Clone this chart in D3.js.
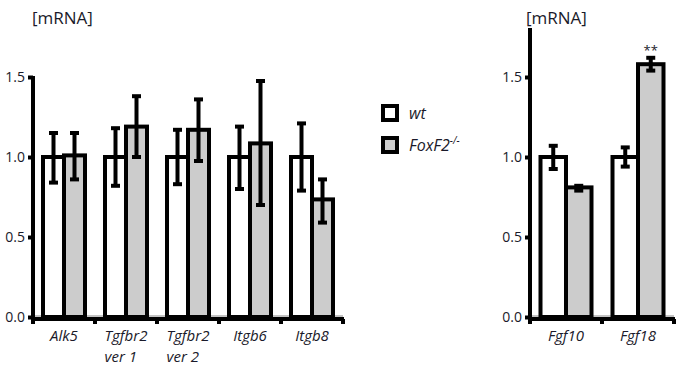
<!DOCTYPE html>
<html><head><meta charset="utf-8">
<script src="https://cdn.jsdelivr.net/npm/d3@7/dist/d3.min.js"></script>
<style>body{margin:0;background:#fff}svg{display:block}text{font-family:"Open Sans",sans-serif;fill:#1a1a2a}</style>
</head><body><svg id="c" width="687" height="369"></svg>
<script>
const leftCats = ["Alk5", "Tgfbr2\nver 1", "Tgfbr2\nver 2", "Itgb6", "Itgb8"];
const leftWt = [1.0, 1.0, 1.0, 1.0, 1.0];
const leftWtErr = [[0.84, 1.15], [0.82, 1.18], [0.83, 1.17], [0.80, 1.19], [0.79, 1.21]];
const leftKo = [1.01, 1.19, 1.17, 1.085, 0.735];
const leftKoErr = [[0.86, 1.15], [1.0, 1.38], [0.975, 1.36], [0.70, 1.475], [0.59, 0.86]];
const rightCats = ["Fgf10", "Fgf18"];
const rightWt = [1.0, 1.0];
const rightWtErr = [[0.925, 1.07], [0.94, 1.06]];
const rightKo = [0.81, 1.58];
const rightKoErr = [[0.79, 0.82], [1.54, 1.62]];
const rightSig = ["", "**"];
const yTicks = [0, 0.5, 1.0, 1.5];
const series = ["wt", "FoxF2"];
const colors = {wt: "#ffffff", FoxF2: "#cccccc"};

const svg = d3.select("#c");
const SW = 4;

function panel(cfg) {
  const y = d3.scaleLinear().domain([0, cfg.ymax]).range([317, cfg.ytop]);
  const x = d3.scaleBand().domain(cfg.cats).range([cfg.x0, cfg.x1]).padding(0);
  const xs = d3.scaleBand().domain(series).range([cfg.pad, x.bandwidth() - cfg.pad]).padding(0);
  const g = svg.append("g");
  g.append("line").attr("x1", cfg.x0).attr("x2", cfg.x1).attr("y1", y(0) - 1).attr("y2", y(0) - 1)
    .attr("stroke", "#888").attr("stroke-width", 1);
  const data = cfg.cats.map((c, i) => ({c, i}));
  const bars = [];
  data.forEach(d => {
    bars.push({c: d.c, s: "wt", v: cfg.wt[d.i], e: cfg.wtErr[d.i]});
    bars.push({c: d.c, s: "FoxF2", v: cfg.ko[d.i], e: cfg.koErr[d.i]});
  });
  const bg = g.selectAll("g.bar").data(bars).join("g").attr("class", "bar")
    .attr("transform", d => `translate(${x(d.c) + xs(d.s)},0)`);
  bg.append("rect").attr("x", 0).attr("width", xs.bandwidth())
    .attr("y", d => y(d.v)).attr("height", d => y(0) - y(d.v))
    .attr("fill", d => colors[d.s]).attr("stroke", "#000").attr("stroke-width", SW);
  const cx = xs.bandwidth() / 2;
  bg.append("line").attr("x1", cx).attr("x2", cx).attr("y1", d => y(d.e[0])).attr("y2", d => y(d.e[1]))
    .attr("stroke", "#000").attr("stroke-width", SW);
  bg.append("line").attr("x1", cx - 4.5).attr("x2", cx + 4.5).attr("y1", d => y(d.e[0])).attr("y2", d => y(d.e[0]))
    .attr("stroke", "#000").attr("stroke-width", SW);
  bg.append("line").attr("x1", cx - 4.5).attr("x2", cx + 4.5).attr("y1", d => y(d.e[1])).attr("y2", d => y(d.e[1]))
    .attr("stroke", "#000").attr("stroke-width", SW);
  if (cfg.sig) {
    bg.filter(d => d.s === "FoxF2").append("text").attr("x", cx).attr("y", d => y(d.e[1]) - 3)
      .attr("text-anchor", "middle").attr("font-size", 13).text((d, i) => cfg.sig[i]);
  }
  const ya = g.append("g").attr("transform", `translate(${cfg.x0},0)`)
    .call(d3.axisLeft(y).tickValues(yTicks).tickFormat(d3.format(".1f")).tickSize(5).tickPadding(3));
  ya.select(".domain").remove();
  ya.append("line").attr("x1", 0).attr("x2", 0).attr("y1", y(cfg.ymax) - 1).attr("y2", y(0) + 4)
    .attr("stroke", "#000").attr("stroke-width", SW);
  ya.selectAll(".tick line").attr("stroke", "#000").attr("stroke-width", SW);
  ya.selectAll(".tick text").attr("font-size", 14).attr("fill", "#1a1a2a").attr("font-family", "Open Sans, sans-serif");
  const xa = g.append("g").attr("transform", `translate(0,${y(0) + 2})`);
  xa.append("line").attr("x1", cfg.x0).attr("x2", cfg.x1 + 1).attr("stroke", "#000").attr("stroke-width", SW);
  const edges = cfg.cats.map(c => x(c)).concat([cfg.x1]);
  xa.selectAll("line.tk").data(edges).join("line").attr("class", "tk")
    .attr("x1", d => d).attr("x2", d => d).attr("y1", 0).attr("y2", 5)
    .attr("stroke", "#000").attr("stroke-width", SW);
  data.forEach(d => {
    const lines = d.c.split("\n");
    const mid = x(d.c) + x.bandwidth() / 2;
    const t1 = g.append("text").attr("font-size", 15).attr("font-style", "italic")
      .attr("y", 341).attr("x", mid).attr("text-anchor", "middle").text(lines[0]);
    if (lines.length > 1) {
      const w = t1.node().getComputedTextLength();
      g.append("text").attr("font-size", 15).attr("font-style", "italic")
        .attr("y", 362).attr("x", mid - w / 2).text(lines[1]);
    }
  });
  g.append("text").attr("x", cfg.titleX).attr("y", cfg.titleY).attr("font-size", 17).text("[mRNA]");
}

panel({cats: leftCats, wt: leftWt, wtErr: leftWtErr, ko: leftKo, koErr: leftKoErr,
  x0: 33, x1: 343, pad: 10, ymax: 1.5, ytop: 77, titleX: 32, titleY: 24});
panel({cats: rightCats, wt: rightWt, wtErr: rightWtErr, ko: rightKo, koErr: rightKoErr, sig: rightSig,
  x0: 530, x1: 674, pad: 10.5, ymax: 1.8, ytop: 29, titleX: 526, titleY: 24});

const lg = svg.append("g").attr("transform", "translate(383,106)");
const items = [{s: "wt", label: "wt"}, {s: "FoxF2", label: "FoxF2", sup: "-/-"}];
items.forEach((it, i) => {
  const row = lg.append("g").attr("transform", `translate(0,${i * 32})`);
  row.append("rect").attr("width", 14).attr("height", 14).attr("fill", colors[it.s])
    .attr("stroke", "#000").attr("stroke-width", SW);
  const t = row.append("text").attr("x", 26).attr("y", 13).attr("font-size", 16).attr("font-style", "italic").text(it.label);
  if (it.sup) t.append("tspan").attr("font-size", 10).attr("dy", -7).text(it.sup);
});
</script></body></html>
